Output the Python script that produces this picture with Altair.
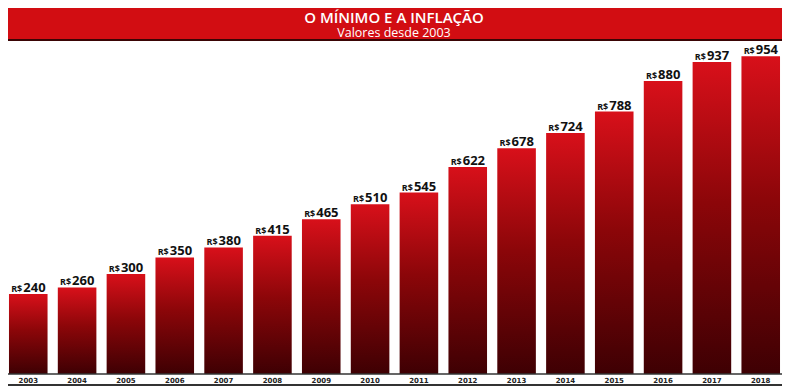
import altair as alt
import pandas as pd

anos = ["2003", "2004", "2005", "2006", "2007", "2008", "2009", "2010",
        "2011", "2012", "2013", "2014", "2015", "2016", "2017", "2018"]
valores = [240, 260, 300, 350, 380, 415, 465, 510,
           545, 622, 678, 724, 788, 880, 937, 954]
titulo = "O MÍNIMO E A INFLAÇÃO"
subtitulo = "Valores desde 2003"
moeda = "R$"

df = pd.DataFrame({"ano": anos, "valor": valores, "moeda": [moeda] * len(anos)})
one = pd.DataFrame({"k": [0]})

W, H = 773, 329

x = alt.X("ano:N", sort=anos, title=None,
          scale=alt.Scale(paddingInner=0.21, paddingOuter=0.02),
          axis=alt.Axis(domain=False, ticks=False, labelAngle=0, labelPadding=2,
                        labelFont="DejaVu Sans", labelFontWeight="bold",
                        labelFontSize=7, labelColor="#222"))
y = alt.Y("valor:Q", title=None, scale=alt.Scale(domain=[0, 988], nice=False, zero=True),
          axis=None)

grad = alt.Gradient(gradient="linear",
                    stops=[alt.GradientStop(color="#d8101a", offset=0),
                           alt.GradientStop(color="#8c0609", offset=0.45),
                           alt.GradientStop(color="#3e0003", offset=1)],
                    x1=0, x2=0, y1=0, y2=1)

bars = alt.Chart(df).mark_bar(color=grad).encode(x=x, y=y)

rs = alt.Chart(df).mark_text(align="right", baseline="alphabetic", dx=-6, dy=-2,
                             font="Open Sans", fontWeight="bold", fontSize=9,
                             color="#111").encode(x=x, y=y, text="moeda:N")
num = alt.Chart(df).mark_text(align="left", baseline="alphabetic", dx=-5, dy=-2,
                              font="Open Sans", fontWeight="bold", fontSize=13,
                              color="#111").encode(x=x, y=y, text="valor:Q")

banner = alt.Chart(one).mark_rect(color="#d20d12").encode(
    x=alt.value(0), x2=alt.value(777), y=alt.value(-37), y2=alt.value(-6))
banner_line = alt.Chart(one).mark_rule(color="#3a0505", strokeWidth=2).encode(
    x=alt.value(0), x2=alt.value(777), y=alt.value(-5))
t1 = alt.Chart(one).mark_text(font="Open Sans", fontWeight=600, fontSize=15,
                              color="white", baseline="alphabetic").encode(
    x=alt.value(386), y=alt.value(-22), text=alt.value(titulo))
t2 = alt.Chart(one).mark_text(font="Open Sans", fontSize=12.5,
                              color="white", baseline="alphabetic").encode(
    x=alt.value(386), y=alt.value(-8.5), text=alt.value(subtitulo))
base_line = alt.Chart(one).mark_rule(color="#333", strokeWidth=1.5).encode(
    x=alt.value(0), x2=alt.value(777), y=alt.value(329))
bottom_line = alt.Chart(one).mark_rule(color="#333", strokeWidth=2).encode(
    x=alt.value(0), x2=alt.value(777), y=alt.value(340))

chart = alt.layer(banner, banner_line, t1, t2, bars, rs, num, base_line, bottom_line).properties(
    width=W, height=H, autosize="none",
    padding={"left": 0, "right": 1, "top": 37, "bottom": 14},
    background="white"
).configure_view(stroke=None)

chart.save("out.html", embed_options={"renderer": "svg", "actions": False})
